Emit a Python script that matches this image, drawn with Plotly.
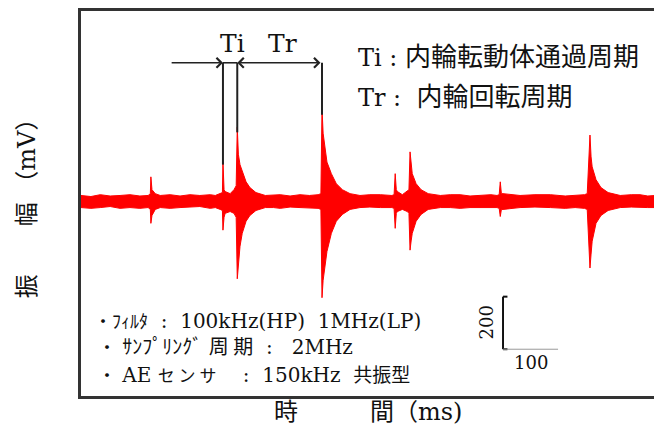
import plotly.graph_objects as go

# ---- data (time units, amplitude mV) ----
time = [0, 18, 35, 53, 71, 89, 107, 122, 126, 127, 129, 135, 144, 162, 180, 198, 216, 235, 244,
        253, 257, 258, 260, 262, 271, 278, 282, 284, 286, 289, 293, 300, 307, 318, 335, 350, 362,
        380, 398, 415, 431, 436, 438, 440, 442, 447, 455, 464, 475, 489, 507, 525, 544, 565, 569,
        571, 573, 575, 584, 593, 596, 598, 600, 602, 609, 618, 631, 653, 671, 689, 707, 725, 745,
        756, 760, 762, 764, 767, 798, 825, 853, 880, 898, 915, 920, 925, 927, 929, 936, 945, 958,
        980, 1000, 1016, 1030, 1045]
upper = [23, 19, 26, 21, 23, 26, 21, 23, 30, 94, 45, 30, 23, 26, 21, 26, 23, 26, 23,
         30, 34, 151, 45, 38, 30, 45, 60, 283, 180, 140, 113, 75, 53, 34, 23, 26, 26,
         21, 26, 23, 26, 30, 355, 260, 226, 150, 106, 68, 45, 30, 23, 26, 26, 23, 26,
         106, 45, 38, 26, 38, 45, 189, 130, 106, 68, 45, 30, 23, 26, 26, 21, 23, 26,
         23, 26, 75, 30, 30, 23, 26, 26, 21, 23, 26, 30, 253, 170, 132, 83, 53, 34,
         23, 26, 26, 21, 23]
lower = [-23, -26, -23, -19, -26, -23, -26, -23, -30, -83, -53, -30, -23, -26, -23, -21, -19, -26, -23,
         -30, -34, -109, -60, -45, -38, -45, -60, -294, -230, -170, -121, -75, -53, -34, -23, -23, -26,
         -21, -23, -26, -26, -30, -366, -300, -264, -190, -121, -75, -49, -30, -23, -21, -23, -23, -26,
         -102, -45, -38, -30, -38, -45, -185, -150, -121, -75, -49, -30, -23, -23, -26, -23, -23, -21,
         -23, -26, -57, -30, -30, -23, -21, -23, -26, -23, -26, -30, -253, -200, -151, -83, -53, -34,
         -23, -21, -23, -23, -23]

# marked periods: burst times used for Ti / Tr
mark_times = [258, 284, 438]
arrow_level = 528
arrow_start = 162
scale_x = [767, 867]      # 100 time units
scale_y = [-562, -362]    # 200 mV

SERIF = "DejaVu Serif, Noto Sans CJK JP"
RED = "#ff0000"
INK = "#111111"

fig = go.Figure()
fig.add_trace(go.Scatter(x=time, y=lower, mode="lines", line=dict(color=RED, width=1),
                         hoverinfo="skip", showlegend=False))
fig.add_trace(go.Scatter(x=time, y=upper, mode="lines", line=dict(color=RED, width=1),
                         fill="tonexty", fillcolor=RED, hoverinfo="skip", showlegend=False))

# vertical marker lines from arrow level to burst peak
for t in mark_times:
    peak = upper[time.index(t)]
    fig.add_shape(type="line", x0=t, x1=t, y0=arrow_level, y1=peak * 0.93,
                  line=dict(color="#222222", width=2))

ann = []
ann.append(dict(x=mark_times[0], y=arrow_level, ax=arrow_start, ay=arrow_level,
                xref="x", yref="y", axref="x", ayref="y", text="", showarrow=True,
                arrowhead=4, arrowsize=1.2, arrowwidth=1.6, arrowcolor="#222222"))
ann.append(dict(x=mark_times[1], y=arrow_level, ax=mark_times[2], ay=arrow_level,
                xref="x", yref="y", axref="x", ayref="y", text="", showarrow=True,
                arrowhead=4, startarrowhead=4, arrowside="end+start", arrowsize=1.2,
                startarrowsize=1.2, arrowwidth=1.6, arrowcolor="#222222"))
fig.add_shape(type="line", x0=mark_times[0], x1=mark_times[1], y0=arrow_level, y1=arrow_level,
              line=dict(color="#222222", width=1.6))


def txt(x, y, s, size, xanchor="left", angle=0):
    return dict(x=x, y=y, xref="x", yref="y", text=s, showarrow=False, xanchor=xanchor,
                yanchor="middle", textangle=angle, font=dict(family=SERIF, size=size, color=INK))


def cjk(s, size):
    return f"<span style='font-family:Noto Sans CJK JP;font-size:{size}px'>{s}</span>"


ann.append(txt(275, 600, "Ti", 25, "center"))
ann.append(txt(367, 600, "Tr", 25, "center"))
ann.append(txt(500, 560, "Ti : " + cjk("内輪転動体通過周期", 26), 24))
ann.append(txt(500, 408, "Tr :  " + cjk("内輪回転周期", 26), 24))

ann.append(txt(20, -449, cjk("・", 18) + cjk("ﾌｨﾙﾀ", 18) + "  :  100kHz(HP)  1MHz(LP)", 20))
ann.append(txt(28, -547, cjk("・", 18) + " " + cjk("ｻﾝﾌﾟﾘﾝｸﾞ", 20) + " " + cjk("周 期", 20)
               + "  :   2MHz", 20))
ann.append(txt(28, -653, cjk("・", 18) + " AE " + cjk("セ ン サ", 17) + cjk("　", 20) + " :  150kHz  "
               + cjk("共振型", 19), 20))

# scale bar
fig.add_shape(type="line", x0=scale_x[0], x1=scale_x[0], y0=scale_y[0], y1=scale_y[1],
              line=dict(color=INK, width=2))
fig.add_shape(type="line", x0=scale_x[0], x1=scale_x[0] + 8, y0=scale_y[1], y1=scale_y[1],
              line=dict(color=INK, width=2))
fig.add_shape(type="line", x0=scale_x[0], x1=scale_x[0] + 8, y0=scale_y[0], y1=scale_y[0],
              line=dict(color=INK, width=2))
fig.add_shape(type="line", x0=scale_x[0], x1=scale_x[1], y0=scale_y[0], y1=scale_y[0],
              line=dict(color="#999999", width=1))
ann.append(txt(scale_x[0] - 30, (scale_y[0] + scale_y[1]) / 2, "200", 18, "center", angle=-90))
ann.append(txt((scale_x[0] + scale_x[1]) / 2, scale_y[0] - 50, "100", 18, "center"))

# axis titles
ann.append(dict(x=-0.094, y=0.503, xref="paper", yref="paper", text="振　　幅 （mV）", showarrow=False,
                textangle=-90, xanchor="center", yanchor="middle",
                font=dict(family=SERIF, size=24, color=INK)))
ann.append(dict(x=0.332, y=-0.041, xref="paper", yref="paper", text="時　　　間（ms)", showarrow=False,
                xanchor="left", yanchor="middle",
                font=dict(family=SERIF, size=24, color=INK)))

# page body has an 8px margin, so the figure is sized/offset to land on the reference frame
fig.update_layout(
    width=654, height=421,
    margin=dict(l=73, r=6, t=0, b=33),
    paper_bgcolor="white", plot_bgcolor="white",
    annotations=ann,
    showlegend=False,
)
fig.update_xaxes(range=[0, 1045], showticklabels=False, showgrid=False, zeroline=False,
                 showline=True, mirror=True, linecolor="#333333", linewidth=2.5, ticks="")
fig.update_yaxes(range=[-740, 725], showticklabels=False, showgrid=False, zeroline=False,
                 showline=True, mirror=True, linecolor="#333333", linewidth=2.5, ticks="")

fig.write_html("out.html")
